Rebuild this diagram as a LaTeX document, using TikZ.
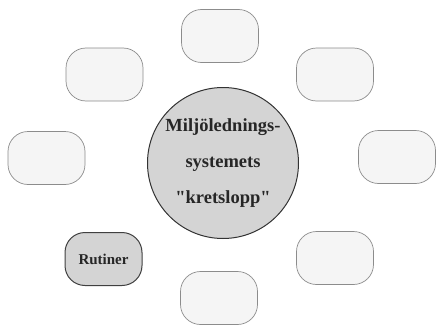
\documentclass[tikz,border=0pt]{standalone}
\usepackage{fontspec}
\setmainfont{Liberation Serif}[Ligatures=TeXOff]
\begin{document}
\begin{tikzpicture}[x=1pt,y=-1pt,
  emptybox/.style={draw=black!45, line width=0.7pt, fill=black!4, rounded corners=20pt, minimum width=77pt, minimum height=53pt, inner sep=0pt},
  rutbox/.style={draw=black!75, line width=1pt, fill=black!17, rounded corners=20pt, minimum width=77pt, minimum height=53pt, inner sep=0pt, font=\bfseries\fontsize{15}{18}\selectfont, text=black!85},
  hub/.style={circle, draw=black!80, line width=1pt, fill=black!17, minimum size=151pt, inner sep=0pt, align=center, text=black!85, font=\bfseries\fontsize{18.5}{36}\selectfont}]
\useasboundingbox (0,0) rectangle (436,324);
\node[hub] (c) at (223,163) {Miljölednings-\\systemets\\"kretslopp"};
\node[emptybox] (top) at (220,36) {};
\node[emptybox] (ul) at (104.5,74.5) {};
\node[emptybox] (ur) at (335,74.5) {};
\node[emptybox] (l) at (46.5,158) {};
\node[emptybox] (r) at (397,157) {};
\node[rutbox] (rut) at (103.5,259) {Rutiner};
\node[emptybox] (br) at (335,258) {};
\node[emptybox] (b) at (219,298) {};
\end{tikzpicture}
\end{document}
